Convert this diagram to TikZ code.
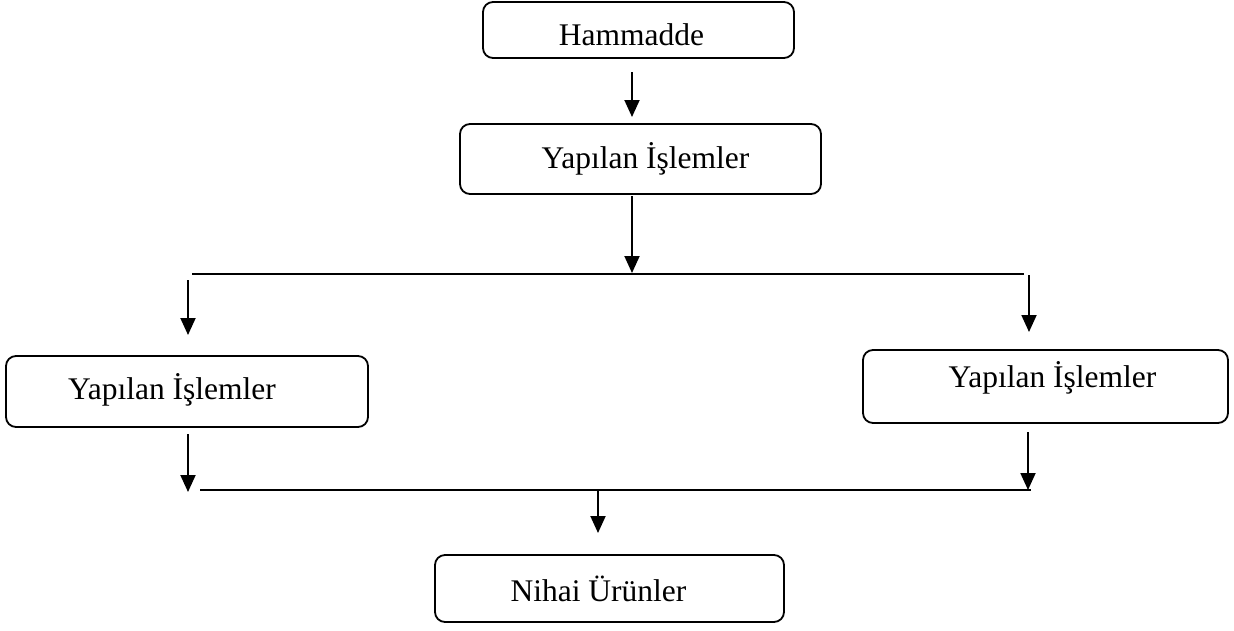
\documentclass[tikz,border=0pt]{standalone}
\usepackage{fontspec}
\setmainfont{Liberation Serif}
\usetikzlibrary{arrows.meta}
\begin{document}
\begin{tikzpicture}[x=1pt,y=-1pt,
  box/.style={draw,line width=1.8pt,rounded corners=10pt,inner sep=0pt,font=\fontsize{31.5}{36}\selectfont},
  arr/.style={line width=1.9pt,-{Triangle[width=15pt,length=17pt]}},
  ln/.style={line width=1.9pt}]
\useasboundingbox (0,0) rectangle (1234,630);
\node[box,minimum width=311pt,minimum height=56pt] (h) at (638.5,30) {\hspace*{-14pt}\raisebox{-5pt}[\height][\depth]{Hammadde}};
\node[box,minimum width=361pt,minimum height=70pt] (p) at (640.5,159) {\hspace*{10pt}Yapılan İşlemler};
\node[box,minimum width=362pt,minimum height=71pt] (l) at (187,391.5) {\hspace*{-30pt}\raisebox{2pt}[\height][\depth]{Yapılan İşlemler}};
\node[box,minimum width=365pt,minimum height=73pt] (r) at (1045.5,386.5) {\hspace*{14pt}\raisebox{9pt}[\height][\depth]{Yapılan İşlemler}};
\node[box,minimum width=349pt,minimum height=67pt] (n) at (609.5,588.5) {\hspace*{-22pt}Nihai Ürünler};
% coordinates
\coordinate (a1s) at (632,72);   \coordinate (a1e) at (632,117);
\coordinate (a2s) at (632,196);  \coordinate (a2e) at (632,273);
\coordinate (t1) at (192,274);   \coordinate (t2) at (1024,274);
\coordinate (la1s) at (188,280); \coordinate (la1e) at (188,335);
\coordinate (ra1s) at (1029,275);\coordinate (ra1e) at (1029,332);
\coordinate (la2s) at (188,434); \coordinate (la2e) at (188,492);
\coordinate (ra2s) at (1028,432);\coordinate (ra2e) at (1028,490);
\coordinate (b1) at (200,490);   \coordinate (b2) at (1031,490);
\coordinate (ms) at (598,490);   \coordinate (me) at (598,533);
\draw[arr] (a1s) -- (a1e);
\draw[arr] (a2s) -- (a2e);
\draw[ln] (t1) -- (t2);
\draw[arr] (la1s) -- (la1e);
\draw[arr] (ra1s) -- (ra1e);
\draw[arr] (la2s) -- (la2e);
\draw[arr] (ra2s) -- (ra2e);
\draw[ln] (b1) -- (b2);
\draw[arr] (ms) -- (me);
\end{tikzpicture}
\end{document}
